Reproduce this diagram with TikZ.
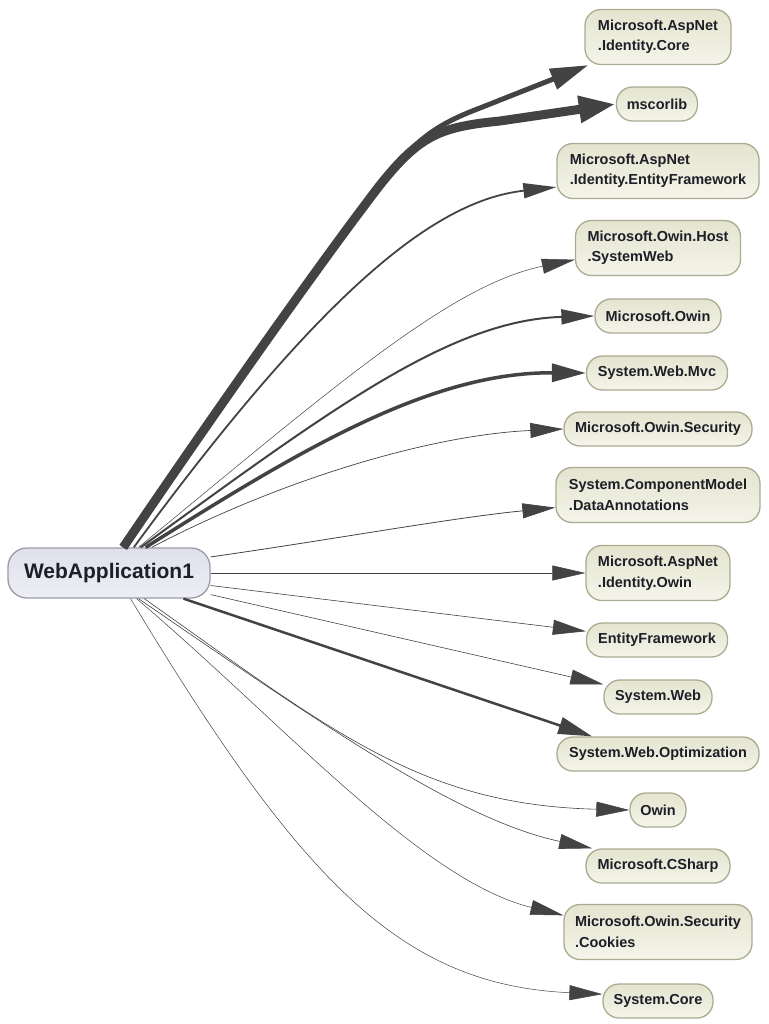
\documentclass[tikz,border=0pt]{standalone}
\usepackage{fontspec}
\setmainfont{Liberation Sans}
\usetikzlibrary{arrows.meta}
\definecolor{edgec}{HTML}{434343}
\definecolor{nodetop}{HTML}{E4E4CF}
\definecolor{nodebot}{HTML}{F4F4EA}
\definecolor{nodeborder}{HTML}{ABAB92}
\definecolor{maintop}{HTML}{E0E0EC}
\definecolor{mainbot}{HTML}{EEEEF5}
\definecolor{mainborder}{HTML}{9A9AAC}
\definecolor{textc}{HTML}{1E1E28}
\begin{document}
\begin{tikzpicture}[x=1pt,y=-1pt,
  dep/.style={draw=edgec, line join=round, -{Triangle[length=33pt,width=15pt]}},
  dll/.style={rounded corners=16pt, draw=nodeborder, line width=1.3pt, top color=nodetop, bottom color=nodebot,
    font=\fontsize{14.5}{20.5}\selectfont\bfseries, text=textc, inner sep=0pt, align=left},
  one/.style={dll, minimum height=34pt},
  two/.style={dll, minimum height=55pt},
  mainnode/.style={rounded corners=19pt, draw=mainborder, line width=1.3pt, top color=maintop, bottom color=mainbot,
    font=\fontsize{21}{24}\selectfont\bfseries, text=textc, inner sep=0pt, minimum width=202pt, minimum height=50pt}
]
\fill[white] (0,0) rectangle (768,1024);
\useasboundingbox (0,0) rectangle (768,1024);

\node[mainnode] (main) at (109,573) {WebApplication1};

\node[two, minimum width=146pt] (ic)  at (658,37)  {Microsoft.AspNet\\.Identity.Core};
\node[one, minimum width=81pt]  (ms)  at (657,104) {mscorlib};
\node[two, minimum width=202pt] (ief) at (658,171) {Microsoft.AspNet\\.Identity.EntityFramework};
\node[two, minimum width=165pt] (hsw) at (658,248) {Microsoft.Owin.Host\\.SystemWeb};
\node[one, minimum width=126pt] (mo)  at (658,316) {Microsoft.Owin};
\node[one, minimum width=141pt] (mvc) at (657,373) {System.Web.Mvc};
\node[one, minimum width=188pt] (sec) at (658,429) {Microsoft.Owin.Security};
\node[two, minimum width=204pt] (dan) at (658,495) {System.ComponentModel\\.DataAnnotations};
\node[two, minimum width=144pt] (io)  at (658,573) {Microsoft.AspNet\\.Identity.Owin};
\node[one, minimum width=141pt] (ef)  at (657,640) {EntityFramework};
\node[one, minimum width=108pt] (sw)  at (658,697) {System.Web};
\node[one, minimum width=202pt] (opt) at (658,754) {System.Web.Optimization};
\node[one, minimum width=56pt]  (ow)  at (658,810) {Owin};
\node[one, minimum width=144pt] (cs)  at (658,866) {Microsoft.CSharp};
\node[two, minimum width=188pt] (ck)  at (658,932) {Microsoft.Owin.Security\\.Cookies};
\node[one, minimum width=110pt] (sc)  at (658,1001) {System.Core};

\draw[dep, line width=5pt, -{Triangle[length=38pt,width=21pt]}]
  (main.61) .. controls (230,390) and (330,250) .. (380,185)
  .. controls (415,140) and (435,125) .. (480,108) -- (ic.202);
\draw[dep, line width=9pt, -{Triangle[length=37pt,width=25pt]}]
  (main.61) .. controls (230,390) and (330,250) .. (380,185)
  .. controls (420,135) and (440,127) .. (500,121) -- (ms.west);
\draw[dep, line width=1.8pt] (main.46) .. controls (330,280) and (440,200) .. (ief.189);
\draw[dep, line width=0.5pt] (main.41) .. controls (330,390) and (450,285) .. (hsw.188);
\draw[dep, line width=2pt] (main.39) .. controls (330,410) and (450,320) .. (mo.west);
\draw[dep, line width=3.5pt, -{Triangle[length=34pt,width=18pt]}] (main.35) .. controls (300,450) and (430,372) .. (mvc.west);
\draw[dep, line width=0.7pt] (main.31) .. controls (280,480) and (430,435) .. (sec.west);
\draw[dep, line width=0.8pt] (main.9) .. controls (330,540) and (450,518) .. (dan.187);
\draw[dep, line width=0.5pt] (main.east) -- (io.west);
\draw[dep, line width=0.6pt] (main.-7) -- (ef.173);
\draw[dep, line width=0.6pt] (main.-12) -- (sw.167);
\draw[dep, line width=2.5pt, -{Triangle[length=34pt,width=17pt]}] (main.-19) -- (opt.165);
\draw[dep, line width=0.6pt] (main.-36) .. controls (330,730) and (420,805) .. (ow.west);
\draw[dep, line width=0.6pt] (main.-41) .. controls (330,730) and (460,820) .. (cs.165);
\draw[dep, line width=0.5pt] (main.-43) .. controls (280,720) and (420,880) .. (ck.170);
\draw[dep, line width=0.5pt] (main.-50) .. controls (300,880) and (400,985) .. (sc.173);
\end{tikzpicture}
\end{document}
